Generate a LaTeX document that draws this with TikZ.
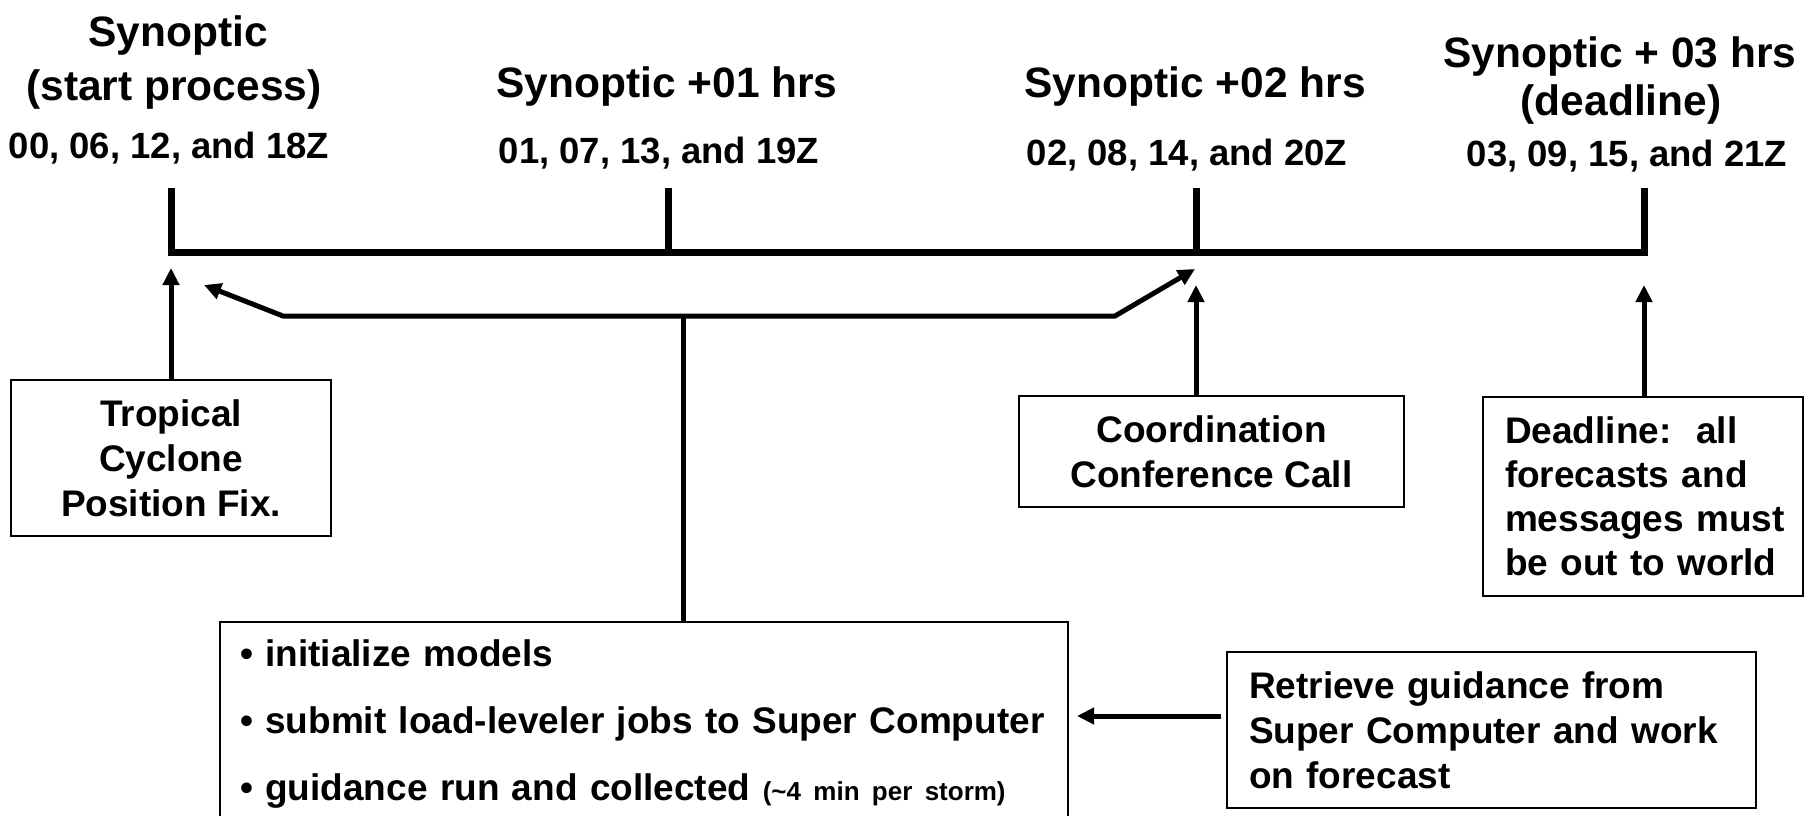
\documentclass[tikz,border=0pt]{standalone}
\usepackage{fontspec}
\setmainfont{Liberation Sans}
\usetikzlibrary{arrows.meta,calc}
\tikzset{
  hd/.style={anchor=base, inner sep=0pt, font=\fontsize{42.5}{50}\selectfont\bfseries},
  tm/.style={anchor=base, inner sep=0pt, font=\fontsize{36.5}{44}\selectfont\bfseries},
  box/.style={draw, line width=2pt, inner sep=0pt, font=\fontsize{37}{45}\selectfont\bfseries},
  axis/.style={line width=7pt, line join=miter},
  conn/.style={line width=5pt, line join=miter},
  tip/.style={-{Triangle[width=16pt,length=17pt]}},
}
\begin{document}
\begin{tikzpicture}[x=1pt,y=-1pt]
\useasboundingbox (0,0) rectangle (1809,816);
\fill[white] (0,0) rectangle (1809,816);
\clip (0,0) rectangle (1809,816);

% timeline
\coordinate (tk0) at (171,252);
\coordinate (tk1) at (668,252);
\coordinate (tk2) at (1196,252);
\coordinate (tk3) at (1644,252);
\draw[axis] ($(tk0)+(0,-64)$) -- (tk0) -- (tk3) -- ($(tk3)+(0,-64)$);
\draw[axis] (tk1) -- ++(0,-64);
\draw[axis] (tk2) -- ++(0,-64);

% top labels
\node[hd] (h1a) at (178,47) {Synoptic};
\node[hd] (h1b) at (174,100) {(start process)};
\node[tm] (n1) at (169,158) {00, 06, 12, and 18Z};
\node[hd] (h2) at (667,97) {Synoptic +01 hrs};
\node[tm] (n2) at (659,163) {01, 07, 13, and 19Z};
\node[hd] (h3) at (1195,97) {Synoptic +02 hrs};
\node[tm] (n3) at (1187,165) {02, 08, 14, and 20Z};
\node[hd] (h4a) at (1620,67) {Synoptic + 03 hrs};
\node[hd] (h4b) at (1621,115) {(deadline)};
\node[tm] (n4) at (1627,166) {03, 09, 15, and 21Z};

% boxes
\node[box, minimum width=320pt, minimum height=156pt, align=center] (trop) at (171,458)
  {Tropical\\Cyclone\\Position Fix.};
\node[box, minimum width=385pt, minimum height=111pt, align=center] (coord) at (1211.5,451.5)
  {Coordination\\Conference Call};
\node[box, inner xsep=22pt, text width=276pt, minimum height=199pt, align=left,
      font=\fontsize{37}{44}\selectfont\bfseries] (dead) at (1643,496.5)
  {Deadline:\ \ all\\forecasts and\\\mbox{messages must}\\be out to world};
\node[box, inner xsep=22pt, text width=485pt, minimum height=156pt, align=left] (retr) at (1491.5,730)
  {Retrieve guidance from\\Super Computer and work\\on forecast};
\node[box, anchor=north west, inner xsep=20pt, inner ysep=18pt, text width=808pt, align=left,
      font=\fontsize{37}{67}\selectfont\bfseries] (models) at (219,621)
  {\mbox{\textbullet\ initialize models}\\
   \mbox{\textbullet\ submit load-leveler jobs to Super Computer}\\
   \mbox{\textbullet\ guidance run and collected {\fontsize{26}{30}\selectfont(\textasciitilde 4 min per storm)}}};

% arrow tips and branch points
\coordinate (tipT) at (171,268);
\coordinate (tipL) at (204,285);
\coordinate (tipR) at (1195,269);
\coordinate (tipC) at (1196,285);
\coordinate (tipD) at (1644,285);
\coordinate (rtip) at (1077,716);
\coordinate (bL) at (283,316);
\coordinate (bM) at (683,316);
\coordinate (bR) at (1115,316);

% connectors
\draw[conn, tip] (trop.north) -- (tipT);
\draw[conn, tip] (coord.north -| tipC) -- (tipC);
\draw[conn, tip] (dead.north -| tipD) -- (tipD);
\draw[conn, {Triangle[width=16pt,length=17pt]}-{Triangle[width=16pt,length=17pt]}]
  (tipL) -- (bL) -- (bR) -- (tipR);
\draw[conn] (bM) -- (models.north -| bM);
\draw[conn, tip] ($(retr.west |- rtip)+(-5,0)$) -- (rtip);
\end{tikzpicture}
\end{document}
